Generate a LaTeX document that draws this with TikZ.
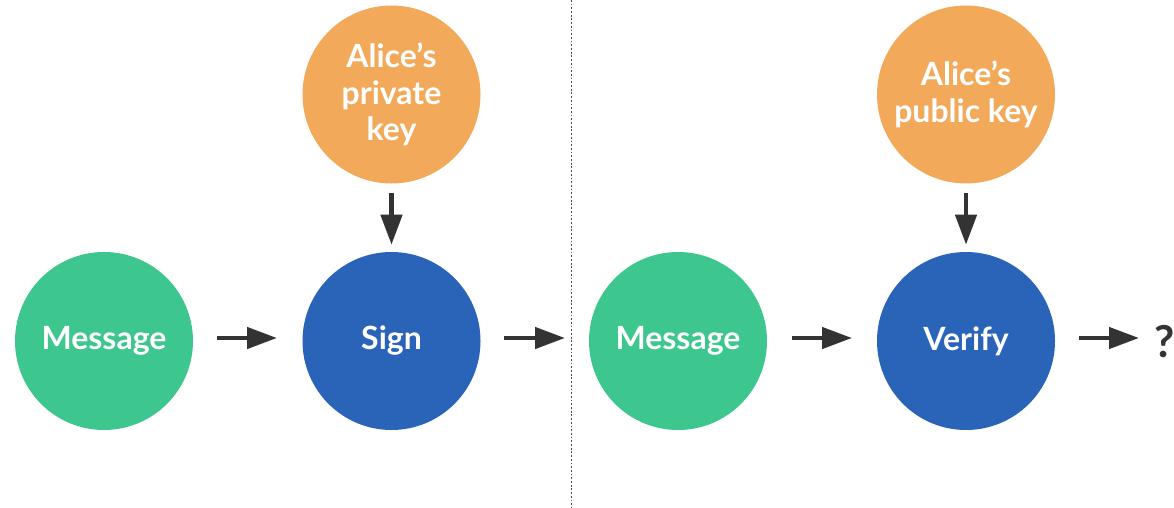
\documentclass[tikz,border=0pt]{standalone}
\usepackage{fontspec}
\setmainfont{Lato}
\usetikzlibrary{arrows.meta}
\definecolor{cgreen}{HTML}{3DC68E}
\definecolor{cblue}{HTML}{2A64B8}
\definecolor{corange}{HTML}{F2AA5A}
\definecolor{carrow}{HTML}{333333}
\tikzset{
  bubble/.style={circle, minimum size=178pt, inner sep=0pt, text=white,
    font=\fontsize{32}{36.5}\selectfont\bfseries, align=center},
  msg/.style={bubble, fill=cgreen},
  op/.style={bubble, fill=cblue},
  keyc/.style={bubble, fill=corange},
  qmark/.style={font=\fontsize{44}{44}\selectfont\bfseries, text=carrow, inner sep=0pt},
  flow/.style={draw=carrow, line width=4.5pt, -{Triangle[length=30pt,width=21pt]}}
}
\begin{document}
\begin{tikzpicture}[x=1pt,y=-1pt]
\useasboundingbox (0,0) rectangle (1174,508);
\node[msg] (m1) at (104,341) {Message};
\node[op] (sign) at (391.5,341) {Sign};
\node[keyc] (priv) at (391.5,94.5) {Alice’s\\private\\key};
\node[msg] (m2) at (678,341) {Message};
\node[op] (ver) at (966,341) {Verify};
\node[keyc] (pub) at (966,94.5) {Alice’s\\public key};
\node[qmark] (q) at (1165,342) {?};
\coordinate (sep) at (571.5,0);
\coordinate (sepb) at (571.5,508);
\draw[draw=black!70, line width=1.8pt, dash pattern=on 1.8pt off 1.9pt] (sep) -- (sepb);
% horizontal arrows
\coordinate (a1s) at (217,338); \coordinate (a1e) at (277,338);
\coordinate (a2s) at (504,338); \coordinate (a2e) at (565,338);
\coordinate (a3s) at (792,338); \coordinate (a3e) at (852,338);
\coordinate (a4s) at (1079,338); \coordinate (a4e) at (1139,338);
\draw[flow] (a1s) -- (a1e);
\draw[flow] (a2s) -- (a2e);
\draw[flow] (a3s) -- (a3e);
\draw[flow] (a4s) -- (a4e);
% vertical arrows
\draw[flow] (priv.south) ++(0,9) -- ++(0,52);
\draw[flow] (pub.south) ++(0,9) -- ++(0,52);
\end{tikzpicture}
\end{document}
